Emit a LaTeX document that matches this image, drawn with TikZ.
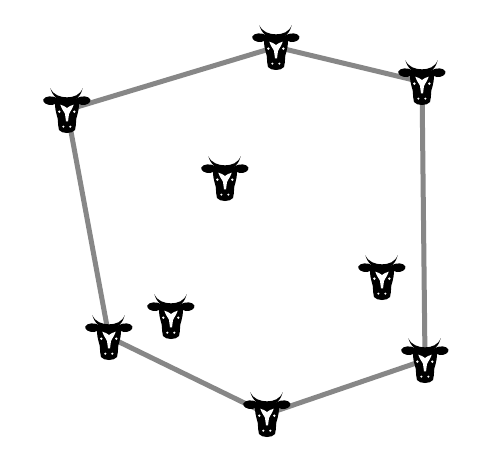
\documentclass[tikz,border=0pt]{standalone}
\begin{document}
\begin{tikzpicture}[x=1pt,y=-1pt,
  fence/.style={draw=black!47,line width=5pt,line join=round},
  cow/.pic={
    \begin{scope}[x=0.3333pt,y=-0.3333pt]
    % horns
    \fill[black] (-50,-66) .. controls (-42,-45) and (-20,-38) .. (0,-38) .. controls (20,-38) and (40,-45) .. (47,-66)
      .. controls (42,-42) and (25,-24) .. (0,-24) .. controls (-25,-24) and (-44,-42) .. (-50,-66) -- cycle;
    % ears
    \fill[black] (-30,-36) .. controls (-45,-44) and (-65,-42) .. (-71,-32) .. controls (-74,-22) and (-60,-14) .. (-45,-15) .. controls (-38,-16) and (-30,-20) .. (-26,-24) -- cycle;
    \fill[black] (30,-36) .. controls (45,-44) and (65,-42) .. (70,-32) .. controls (73,-22) and (60,-14) .. (45,-15) .. controls (38,-16) and (30,-20) .. (26,-24) -- cycle;
    % head
    \fill[black] (-34,-36) .. controls (-15,-32) and (15,-32) .. (34,-36)
      .. controls (38,-20) and (36,0) .. (28,25) .. controls (26,40) and (28,50) .. (24,60)
      .. controls (15,72) and (-15,72) .. (-24,60) .. controls (-28,50) and (-26,40) .. (-28,25)
      .. controls (-36,0) and (-38,-20) .. (-34,-36) -- cycle;
    % blaze
    \fill[white] (-20,-16) .. controls (-12,-14) and (-5,-10) .. (0,-6) .. controls (5,-10) and (12,-14) .. (20,-16)
      .. controls (17,-4) and (9,4) .. (6,12) -- (3,34) -- (-3,34) -- (-6,12) .. controls (-9,4) and (-17,-4) .. (-20,-16) -- cycle;
    % eyes and nostrils
    \fill[white] (-23,5) circle[radius=4];
    \fill[white] (22,5) circle[radius=4];
    \fill[white] (-11,50) circle[radius=3.5];
    \fill[white] (10,50) circle[radius=3.5];
    \end{scope}
  }]
\useasboundingbox (0,0) rectangle (492,458);
\fill[white] (0,0) rectangle (492,458);
\coordinate (top) at (276,47);
\coordinate (ur) at (422,82);
\coordinate (ul) at (67,110);
\coordinate (mid) at (225,178);
\coordinate (rt) at (382,277);
\coordinate (lm) at (171,316);
\coordinate (ll) at (109,337);
\coordinate (br) at (425,360);
\coordinate (bot) at (267,414);
\draw[fence] (ul) -- (top) -- (ur) -- (br) -- (bot) -- (ll) -- cycle;
\foreach \c in {top,ur,ul,mid,rt,lm,ll,br,bot}{
  \pic at (\c) {cow};
}
\end{tikzpicture}
\end{document}
